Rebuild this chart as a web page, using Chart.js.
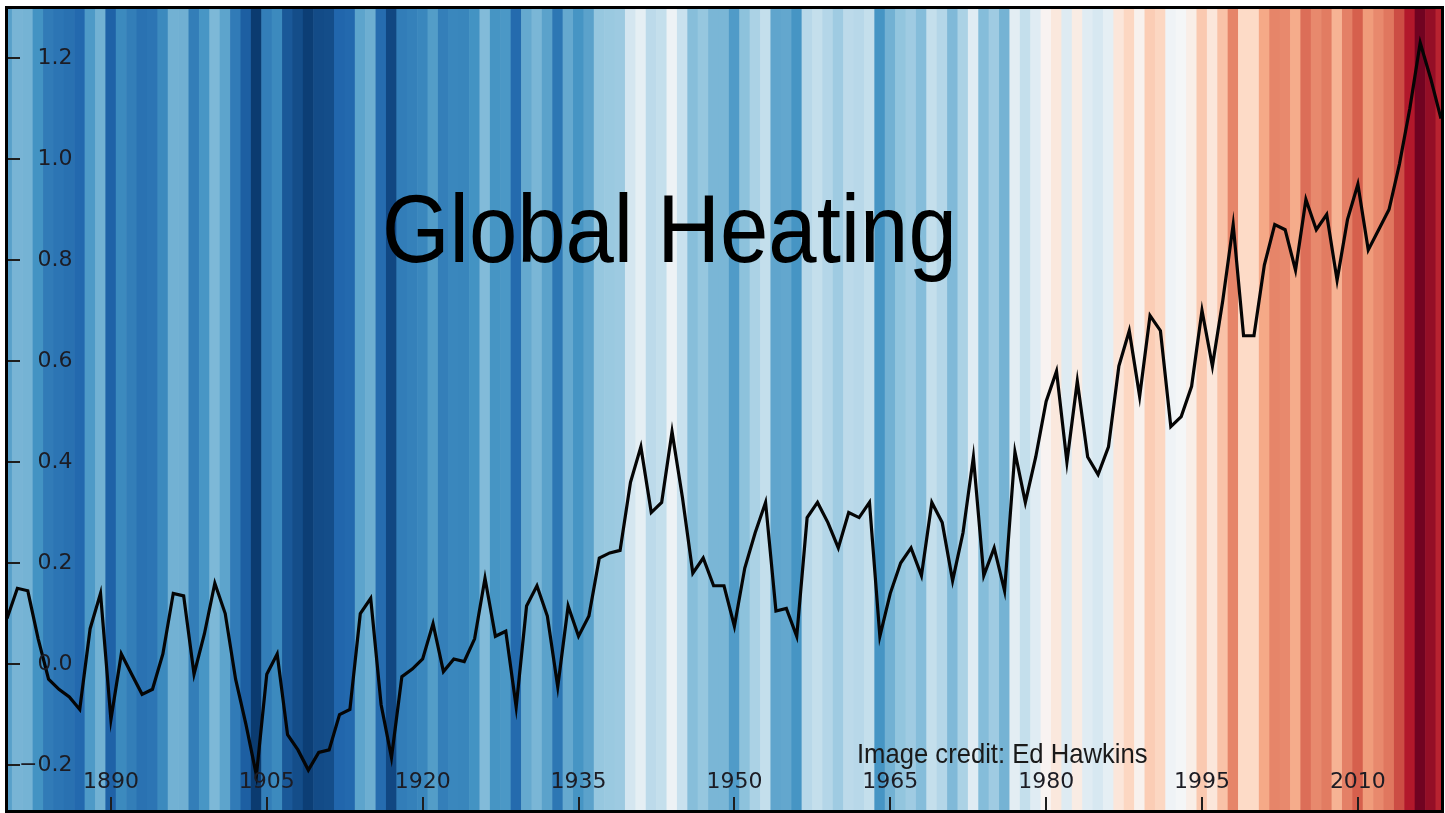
<!DOCTYPE html>
<html>
<head>
<meta charset="utf-8">
<script src="https://cdn.jsdelivr.net/npm/chart.js@4.4.1/dist/chart.umd.min.js"></script>
<style>
  html, body { margin: 0; padding: 0; background: #ffffff; }
  #wrap { position: relative; width: 1445px; height: 813px; }
  canvas { display: block; }
</style>
</head>
<body>
<div id="wrap"><canvas id="c" width="1445" height="813"></canvas></div>
<script>
// ---------- data ----------
const years = [
  1880,1881,1882,1883,1884,1885,1886,1887,1888,1889,
  1890,1891,1892,1893,1894,1895,1896,1897,1898,1899,
  1900,1901,1902,1903,1904,1905,1906,1907,1908,1909,
  1910,1911,1912,1913,1914,1915,1916,1917,1918,1919,
  1920,1921,1922,1923,1924,1925,1926,1927,1928,1929,
  1930,1931,1932,1933,1934,1935,1936,1937,1938,1939,
  1940,1941,1942,1943,1944,1945,1946,1947,1948,1949,
  1950,1951,1952,1953,1954,1955,1956,1957,1958,1959,
  1960,1961,1962,1963,1964,1965,1966,1967,1968,1969,
  1970,1971,1972,1973,1974,1975,1976,1977,1978,1979,
  1980,1981,1982,1983,1984,1985,1986,1987,1988,1989,
  1990,1991,1992,1993,1994,1995,1996,1997,1998,1999,
  2000,2001,2002,2003,2004,2005,2006,2007,2008,2009,
  2010,2011,2012,2013,2014,2015,2016,2017,2018
];

// temperature anomaly (°C)
const anomalies = [
  0.09, 0.15, 0.145, 0.05, -0.03, -0.05, -0.065, -0.09, 0.07, 0.14,
  -0.11, 0.02, -0.02, -0.06, -0.05, 0.02, 0.14, 0.135, -0.02, 0.06,
  0.16, 0.10, -0.03, -0.12, -0.22, -0.02, 0.02, -0.14, -0.17, -0.21,
  -0.175, -0.17, -0.10, -0.09, 0.10, 0.13, -0.08, -0.185, -0.025, -0.01,
  0.01, 0.08, -0.015, 0.01, 0.005, 0.05, 0.17, 0.055, 0.065, -0.085,
  0.115, 0.155, 0.095, -0.045, 0.115, 0.055, 0.095, 0.21, 0.22, 0.225,
  0.36, 0.43, 0.30, 0.32, 0.46, 0.33, 0.18, 0.21, 0.155, 0.155,
  0.075, 0.19, 0.26, 0.32, 0.105, 0.11, 0.055, 0.29, 0.32, 0.28,
  0.23, 0.30, 0.29, 0.32, 0.055, 0.14, 0.20, 0.23, 0.175, 0.32,
  0.28, 0.165, 0.26, 0.41, 0.175, 0.23, 0.145, 0.42, 0.32, 0.41,
  0.52, 0.58, 0.40, 0.56, 0.41, 0.375, 0.43, 0.59, 0.66, 0.53,
  0.69, 0.66, 0.47, 0.49, 0.55, 0.70, 0.59, 0.72, 0.87, 0.65,
  0.65, 0.79, 0.87, 0.86, 0.78, 0.92, 0.86, 0.89, 0.76, 0.88,
  0.95, 0.82, 0.86, 0.90, 0.99, 1.10, 1.23, 1.16, 1.08
];

const xTickYears = [1890, 1905, 1920, 1935, 1950, 1965, 1980, 1995, 2010];
const yTickValues = [-0.2, 0.0, 0.2, 0.4, 0.6, 0.8, 1.0, 1.2];

const titleText = 'Global Heating';
const creditText = 'Image credit: Ed Hawkins';

// ---------- axis ranges & colour scale ----------
const X_MIN = 1880, X_MAX = 2018;
const Y_MIN = -0.289, Y_MAX = 1.299;
const COLOR_MIN = -0.25, COLOR_MAX = 1.25;   // anomaly mapped to RdBu_r
const RDBU_R = ['#053061','#2166ac','#4393c3','#92c5de','#d1e5f0','#f7f7f7',
                '#fddbc7','#f4a582','#d6604d','#b2182b','#67001f'];

function hexToRgb(h) {
  return [parseInt(h.slice(1,3),16), parseInt(h.slice(3,5),16), parseInt(h.slice(5,7),16)];
}
function stripeColour(v) {
  let t = (v - COLOR_MIN) / (COLOR_MAX - COLOR_MIN);
  t = Math.min(1, Math.max(0, t));
  const p = t * (RDBU_R.length - 1);
  const i = Math.min(RDBU_R.length - 2, Math.floor(p));
  const f = p - i;
  const a = hexToRgb(RDBU_R[i]), b = hexToRgb(RDBU_R[i + 1]);
  const c = a.map((ai, k) => Math.round(ai + (b[k] - ai) * f));
  return 'rgb(' + c.join(',') + ')';
}

const linePoints = years.map((yr, i) => ({ x: yr, y: anomalies[i] }));
const stripePoints = years.map(yr => ({ x: yr, y: [Y_MIN, Y_MAX] }));
const stripeColours = anomalies.map(stripeColour);

// ---------- plugins ----------
const framePlugin = {
  id: 'frame',
  afterDraw(chart) {
    const { ctx, chartArea: a } = chart;
    ctx.save();
    ctx.strokeStyle = '#000';
    ctx.lineWidth = 3;
    ctx.strokeRect(a.left - 0.5, a.top - 0.5, a.right - a.left + 2, a.bottom - a.top + 2);
    ctx.restore();
  }
};

const textPlugin = {
  id: 'texts',
  afterDraw(chart) {
    const ctx = chart.ctx;
    ctx.save();
    ctx.textBaseline = 'alphabetic';
    ctx.textAlign = 'left';
    // title
    ctx.save();
    ctx.translate(382, 262);
    ctx.scale(0.905, 1);
    ctx.font = '96px "Liberation Sans", Arial, Helvetica, sans-serif';
    ctx.fillStyle = '#000';
    ctx.fillText(titleText, 0, 0);
    ctx.restore();
    // credit
    ctx.save();
    ctx.translate(857, 763);
    ctx.scale(0.915, 1);
    ctx.font = '28px "Liberation Sans", Arial, Helvetica, sans-serif';
    ctx.fillStyle = '#1a1a1a';
    ctx.fillText(creditText, 0, 0);
    ctx.restore();
    ctx.restore();
  }
};

const tickFont = { family: '"DejaVu Sans", sans-serif', size: 22 };
const zeroPadding = s => { s.paddingTop = 0; s.paddingBottom = 0; s.paddingLeft = 0; s.paddingRight = 0; };

new Chart(document.getElementById('c'), {
  type: 'bar',
  data: {
    datasets: [
      {
        type: 'line',
        data: linePoints,
        borderColor: '#050505',
        borderWidth: 3.2,
        pointRadius: 0,
        tension: 0,
        fill: false,
        order: 0
      },
      {
        type: 'bar',
        data: stripePoints,
        backgroundColor: stripeColours,
        borderWidth: 0,
        barPercentage: 1.06,
        categoryPercentage: 1,
        grouped: false,
        order: 1
      }
    ]
  },
  options: {
    responsive: false,
    animation: false,
    devicePixelRatio: 1,
    events: [],
    layout: { padding: { left: 7, right: 4, top: 8, bottom: 3 } },
    plugins: { legend: { display: false }, tooltip: { enabled: false }, title: { display: false } },
    scales: {
      x: {
        type: 'linear',
        min: X_MIN,
        max: X_MAX,
        offset: false,
        border: { display: false, z: 2 },
        grid: { display: true, z: 2, offset: false, drawOnChartArea: false, drawTicks: true, tickLength: -13, color: '#1e1e1e', lineWidth: 2 },
        ticks: {
          z: 2,
          mirror: true,
          padding: 15,
          autoSkip: false,
          maxRotation: 0,
          font: tickFont,
          color: '#1c1c24',
          callback: v => String(v)
        },
        afterBuildTicks: s => { s.ticks = xTickYears.map(v => ({ value: v })); },
        afterFit: s => { s.height = 0; zeroPadding(s); }
      },
      y: {
        type: 'linear',
        min: Y_MIN,
        max: Y_MAX,
        border: { display: false, z: 2 },
        grid: { display: true, z: 2, drawOnChartArea: false, drawTicks: true, tickLength: -13, color: '#1e1e1e', lineWidth: 2 },
        ticks: {
          z: 2,
          mirror: true,
          crossAlign: 'far',
          padding: 12,
          font: tickFont,
          color: '#1c1c24',
          callback: v => (v < 0 ? '\u2212' : '') + Math.abs(v).toFixed(1)
        },
        afterBuildTicks: s => { s.ticks = yTickValues.map(v => ({ value: v })); },
        afterFit: s => { s.width = 0; zeroPadding(s); }
      }
    }
  },
  plugins: [framePlugin, textPlugin]
});
</script>
</body>
</html>
